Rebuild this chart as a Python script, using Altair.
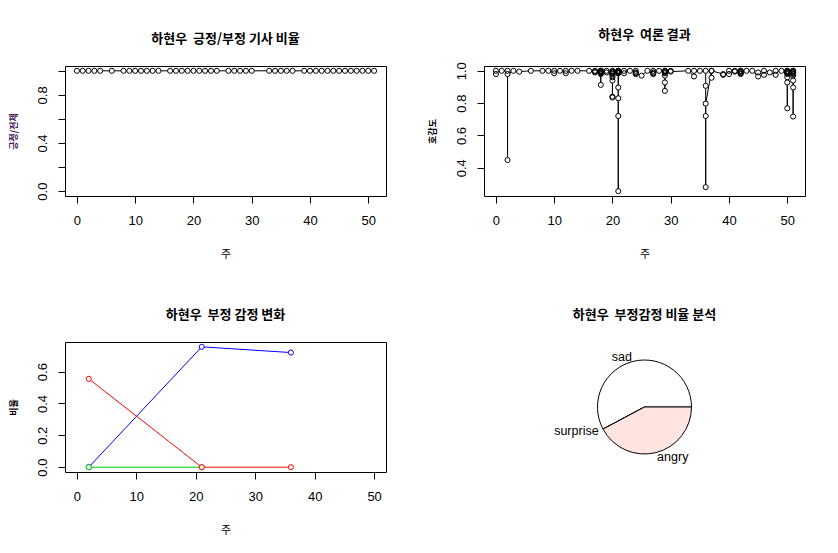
import math
import altair as alt
import pandas as pd

FONT_LAT = "Liberation Sans"
FONT_KR = "Noto Sans CJK KR"
SP = "\u00a0\u00a0"

# ---------------- data ----------------
# panel 1: positive ratio per week
p1_weeks = [0, 1, 2, 3, 4, 6, 8, 9, 10, 11, 12, 13, 14, 16, 17, 18, 19, 20, 21, 22, 23, 24,
            26, 27, 28, 29, 30, 33, 34, 35, 36, 37, 39, 40, 41, 42, 43, 44, 45, 46, 47, 48,
            49, 50, 51]
p1_ratio = [1.0, 1.0, 1.0, 1.0, 1.0, 1.0, 1.0, 1.0, 1.0, 1.0, 1.0, 1.0, 1.0, 1.0, 1.0,
            1.0, 1.0, 1.0, 1.0, 1.0, 1.0, 1.0, 1.0, 1.0, 1.0, 1.0, 1.0, 1.0, 1.0, 1.0,
            1.0, 1.0, 1.0, 1.0, 1.0, 1.0, 1.0, 1.0, 1.0, 1.0, 1.0, 1.0, 1.0, 1.0, 1.0]

# panel 2: favourability per article (drawing order)
p2_weeks = [0, 0, 1, 2, 2, 2, 3, 4, 6, 8, 9, 10, 10, 11, 12, 12, 13, 14, 16,
            17, 17, 17,
            18, 18, 18, 18, 18, 18, 18, 18, 18, 18,
            19, 19,
            20, 20, 20, 20, 20, 20, 20, 20, 20, 20,
            21, 21, 21, 21, 21, 21, 21, 21, 21, 21, 21, 21, 21,
            22, 22, 23, 24, 24, 24, 24, 25, 26, 27, 27, 27, 27, 28,
            29, 29, 29, 29, 29, 29, 29, 29,
            30, 30, 33, 34, 34, 35,
            36, 36, 36, 36, 36,
            37, 37, 37, 39, 39, 40, 40, 41, 41, 42, 42, 42, 42, 42, 42, 43, 44, 45, 45,
            46, 46, 47, 48, 48, 49,
            50, 50, 50, 50, 50, 50, 50, 50, 50, 50,
            51, 51, 51, 51, 51, 51, 51, 51, 51, 51]
p2_score = [0.98, 1.0, 1.0, 1.0, 0.448, 0.98, 1.0, 0.995, 1.0, 1.0, 1.0, 1.0, 0.985, 1.0, 0.985, 1.0, 1.0, 1.0, 1.0,
            0.99, 1.0, 0.995,
            1.0, 0.99, 0.995, 0.985, 0.913, 0.98, 1.0, 0.99, 0.995, 1.0,
            1.0, 0.99,
            0.97, 0.94, 0.835, 0.84, 0.96, 0.985, 0.99, 1.0, 0.995, 0.98,
            1.0, 0.99, 0.995, 0.985, 0.897, 0.255, 0.72, 0.83, 0.99, 1.0, 0.995, 0.985, 1.0,
            0.985, 1.0, 1.0, 1.0, 0.99, 0.98, 0.985, 0.97, 1.0, 0.98, 0.99, 1.0, 0.985, 1.0,
            0.99, 0.97, 0.876, 0.928, 1.0, 0.995, 0.985, 1.0,
            1.0, 0.995, 1.0, 0.965, 1.0, 1.0,
            1.0, 0.907, 0.28, 0.72, 0.797,
            1.0, 0.957, 1.0, 0.98, 0.975, 0.98, 1.0, 1.0, 0.995, 0.98, 0.99, 1.0, 0.995, 0.985, 1.0, 1.0, 1.0, 0.965, 0.99,
            0.975, 1.0, 0.99, 0.975, 1.0, 1.0,
            1.0, 0.99, 0.768, 0.928, 0.96, 0.98, 1.0, 0.99, 0.985, 0.995,
            1.0, 0.98, 0.717, 0.897, 0.94, 0.97, 0.99, 1.0, 0.985, 0.995]

# panel 3: negative emotion ratios (None = no value that week)
p3_weeks = [2, 21, 36]
p3_blue = [0.0, 0.756, 0.72]
p3_green = [0.0, 0.0, None]
p3_red = [0.555, 0.0, 0.0]

# panel 4: pie
pie_labels = ["sad", "surprise", "angry"]
pie_values = [0.578, 0.0, 0.422]
pie_colors = ["white", "lightblue", "mistyrose"]

x_ticks = [0, 10, 20, 30, 40, 50]

# ---------------- helpers ----------------
W, H = 321, 130
PT = 26


def r_domain(lo, hi):
    ext = 0.04 * (hi - lo)
    return [lo - ext, hi + ext]


def title(text):
    return alt.TitleParams(text=text, font=FONT_KR, fontSize=13, fontWeight="bold",
                           color="black", anchor="middle", frame="group", offset=20)


def x_axis():
    return alt.Axis(values=x_ticks, title="주", titleX=W / 2, titleY=58,
                    titleFont=FONT_KR, titleFontSize=11, titleFontWeight="normal",
                    titleAlign="center", titleBaseline="middle", titleAngle=0,
                    labelPadding=11, labelBaseline="top", labelAlign="center")


def y_axis(values, ytitle, label_expr, title_color="black"):
    return alt.Axis(values=values, format=".1f", labelExpr=label_expr,
                    labelAngle=270, labelAlign="center", labelBaseline="bottom",
                    labelPadding=9, title=ytitle, titleX=-52, titleY=H / 2,
                    titleAngle=270, titleAlign="center", titleBaseline="middle",
                    titleFont=FONT_KR, titleFontSize=9, titleFontWeight="bold",
                    titleColor=title_color)


def series(df, xscale, yscale, xax, yax, color):
    base = alt.Chart(df).encode(
        x=alt.X("week:Q", scale=xscale, axis=xax),
        y=alt.Y("val:Q", scale=yscale, axis=yax),
    )
    line = base.mark_line(color=color, strokeWidth=1).encode(order="idx:Q")
    mask = base.mark_point(shape="circle", size=PT, filled=True, color="white", opacity=1)
    pts = base.mark_point(shape="circle", size=PT, filled=False, color=color,
                          strokeWidth=1, opacity=1)
    return [line, mask, pts]


box = alt.ViewBackground(stroke="black", strokeWidth=1)

# ---------------- panel 1 ----------------
df1 = pd.DataFrame({"week": p1_weeks, "val": p1_ratio, "idx": range(len(p1_weeks))})
xs1 = alt.Scale(domain=r_domain(0, 51), nice=False, zero=False)
ys1 = alt.Scale(domain=r_domain(0, 1), nice=False, zero=False)
lab1 = ("abs(datum.value) < 1e-6 || abs(datum.value - 0.4) < 1e-6 || abs(datum.value - 0.8) < 1e-6"
        " ? format(datum.value, '.1f') : ''")
yax1 = y_axis([0, 0.2, 0.4, 0.6, 0.8, 1.0], "긍정/전체", lab1, title_color="#4a2060")
p1 = alt.layer(*series(df1, xs1, ys1, x_axis(), yax1, "black")).properties(
    width=W, height=H, title=title("하현우" + SP + "긍정/부정 기사 비율"), view=box)

# ---------------- panel 2 ----------------
df2 = pd.DataFrame({"week": p2_weeks, "val": p2_score, "idx": range(len(p2_weeks))})
xs2 = alt.Scale(domain=r_domain(0, 51), nice=False, zero=False)
ys2 = alt.Scale(domain=r_domain(min(p2_score), max(p2_score)), nice=False, zero=False)
yax2 = y_axis([0.4, 0.6, 0.8, 1.0], "호감도", "format(datum.value, '.1f')")
p2 = alt.layer(*series(df2, xs2, ys2, x_axis(), yax2, "black")).properties(
    width=W, height=H, title=title("하현우" + SP + "여론 결과"), view=box)

# ---------------- panel 3 ----------------
xs3 = alt.Scale(domain=r_domain(0, 50), nice=False, zero=False)
all3 = [v for v in p3_blue + p3_red + p3_green if v is not None]
ys3 = alt.Scale(domain=r_domain(0, max(all3)), nice=False, zero=False)
yax3 = y_axis([0, 0.2, 0.4, 0.6], "비율", "format(datum.value, '.1f')")
layers3 = []
for vals, col in [(p3_blue, "blue"), (p3_green, "#00cc00"), (p3_red, "red")]:
    d = pd.DataFrame({"week": p3_weeks, "val": vals, "idx": range(len(p3_weeks))})
    d = d.dropna()
    layers3 += series(d, xs3, ys3, x_axis(), yax3, col)
p3 = alt.layer(*layers3).properties(
    width=W, height=H, title=title("하현우" + SP + "부정 감정 변화"), view=box)

# ---------------- panel 4 (pie) ----------------
pie_df = pd.DataFrame({"label": pie_labels, "value": pie_values, "ord": range(len(pie_labels))})
pie_base = (
    alt.Chart(pie_df)
    .transform_joinaggregate(total="sum(value)")
    .transform_window(cum="sum(value)", sort=[alt.SortField("ord")], frame=[None, 0])
    .transform_calculate(
        start="(datum.cum - datum.value) / datum.total",
        end="datum.cum / datum.total",
        mid="(2 * datum.cum - datum.value) / (2 * datum.total)",
    )
)
theta_scale = alt.Scale(domain=[0, 1], range=[2.5 * math.pi, 0.5 * math.pi])
arcs = pie_base.mark_arc(radius=47, stroke="black", strokeWidth=1).encode(
    theta=alt.Theta("start:Q", scale=theta_scale, stack=False),
    theta2="end:Q",
    fill=alt.Fill("label:N", scale=alt.Scale(domain=pie_labels, range=pie_colors), legend=None),
)
lab_r = pie_base.transform_filter("cos(2 * PI * datum.mid) <= 0").mark_text(
    radius=52, align="right", baseline="middle", font=FONT_LAT, fontSize=12.5, color="black"
).encode(theta=alt.Theta("mid:Q", scale=theta_scale, stack=False), text="label:N")
lab_l = pie_base.transform_filter("cos(2 * PI * datum.mid) > 0").mark_text(
    radius=52, align="left", baseline="middle", font=FONT_LAT, fontSize=12.5, color="black"
).encode(theta=alt.Theta("mid:Q", scale=theta_scale, stack=False), text="label:N")
p4 = alt.layer(arcs, lab_r, lab_l).properties(
    width=W, height=H, title=title("하현우" + SP + "부정감정 비율 분석"),
    view=alt.ViewBackground(stroke="transparent"))

chart = (
    alt.concat(p1, p2, p3, p4, columns=2, spacing={"row": 146, "column": 98}, bounds="flush")
    .properties(padding={"left": 8, "top": 28, "right": 10, "bottom": 10}, background="white")
    .configure_axis(domain=False, grid=False, tickColor="black", tickSize=7, tickWidth=1,
                    labelColor="black", labelFont=FONT_LAT, labelFontSize=13,
                    labelOverlap=False, labelFlush=False, labelBound=False, titleColor="black")
)

chart.save("out.html", embed_options={"renderer": "svg", "actions": False})
